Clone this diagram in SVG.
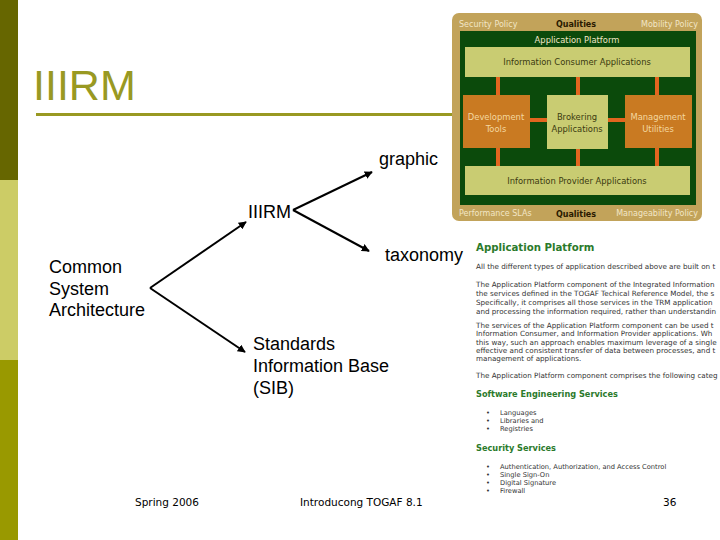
<svg xmlns="http://www.w3.org/2000/svg" width="720" height="540" viewBox="0 0 720 540">
<style>
.lbl{font-family:"Liberation Sans",Arial,sans-serif;font-size:18px;fill:#000}
.foot{font-family:"DejaVu Sans",Verdana,sans-serif;font-size:10.5px;fill:#000}
.pic{font-family:"DejaVu Sans",Verdana,sans-serif;font-size:8.4px;text-anchor:middle}
.sm{font-size:8px}
.picL{fill:#f2e6c6}
.picD{fill:#3a3a10}
.picO{fill:#f4d8a0}
.q{font-weight:bold;fill:#2a1a00}
.body{font-family:"DejaVu Sans",Verdana,sans-serif;font-size:7.2px;fill:#333}
.bl{font-family:"DejaVu Sans",Verdana,sans-serif;font-size:6.7px;fill:#333}
.h1{font-family:"DejaVu Sans",Verdana,sans-serif;font-size:10.2px;font-weight:bold;fill:#2b7a2b}
.h2{font-family:"DejaVu Sans",Verdana,sans-serif;font-size:8.2px;font-weight:bold;fill:#2b7a2b}
.conn{stroke:#000;stroke-width:2;fill:none;marker-end:url(#ah)}
.lt{fill:#c9cc72}
.or{fill:#c97a22}
.cn{fill:#e2651f}
</style>
<defs>
<marker id="ah" viewBox="0 0 10 10" refX="9" refY="5" markerWidth="4" markerHeight="4" orient="auto" markerUnits="strokeWidth">
<path d="M0,0 L10,5 L0,10 z" fill="#000"/>
</marker>
<clipPath id="clip"><rect x="0" y="0" width="720" height="540"/></clipPath>
</defs>
<rect width="720" height="540" fill="#fff"/>
<!-- left bar -->
<rect x="0" y="0" width="18" height="180" fill="#666600"/>
<rect x="0" y="180" width="18" height="180" fill="#cccc66"/>
<rect x="0" y="360" width="18" height="180" fill="#999900"/>
<!-- title -->
<text x="33" y="100" font-family="Liberation Sans,Arial,sans-serif" font-size="43" fill="#999922">IIIRM</text>
<rect x="36" y="113" width="416" height="3" fill="#999922"/>
<!-- picture -->
<g id="platform-picture">
<rect x="452" y="13" width="250" height="208" rx="7" fill="#c2a35a"/>
<rect x="460" y="31" width="236" height="174" fill="#0b4a0b"/>
<rect x="465" y="47" width="225" height="30" class="lt"/>
<rect x="496" y="77" width="4" height="18" class="cn"/>
<rect x="576" y="77" width="4" height="18" class="cn"/>
<rect x="655" y="77" width="4" height="18" class="cn"/>
<rect x="463" y="95" width="67" height="53" class="or"/>
<rect x="547" y="95" width="61" height="54" class="lt"/>
<rect x="625" y="95" width="67" height="53" class="or"/>
<rect x="530" y="118" width="17" height="4" class="cn"/>
<rect x="608" y="118" width="17" height="4" class="cn"/>
<rect x="496" y="148" width="4" height="18" class="cn"/>
<rect x="576" y="149" width="4" height="17" class="cn"/>
<rect x="655" y="148" width="4" height="18" class="cn"/>
<rect x="465" y="166" width="225" height="29" class="lt"/>
<text x="459" y="27" class="pic sm picL" style="text-anchor:start">Security Policy</text>
<text x="576" y="27" class="pic sm q">Qualities</text>
<text x="698" y="27" class="pic sm picL" style="text-anchor:end">Mobility Policy</text>
<text x="577" y="43" class="pic picL">Application Platform</text>
<text x="577" y="65" class="pic picD">Information Consumer Applications</text>
<text x="496" y="120" class="pic picO">Development</text>
<text x="496" y="132" class="pic picO">Tools</text>
<text x="577" y="120" class="pic picD">Brokering</text>
<text x="577" y="132" class="pic picD">Applications</text>
<text x="658" y="120" class="pic picO">Management</text>
<text x="658" y="132" class="pic picO">Utilities</text>
<text x="577" y="184" class="pic picD">Information Provider Applications</text>
<text x="459" y="216" class="pic sm picL" style="text-anchor:start">Performance SLAs</text>
<text x="576" y="217" class="pic sm q">Qualities</text>
<text x="698" y="216" class="pic sm picL" style="text-anchor:end">Manageability Policy</text>
</g>
<!-- text panel -->
<g id="text-panel" clip-path="url(#clip)">
<text x="476" y="251" class="h1">Application Platform</text>
<text x="476" y="269" class="body">All the different types of application described above are built on t</text>
<text x="476" y="287" class="body">The Application Platform component of the Integrated Information</text>
<text x="476" y="296" class="body">the services defined in the TOGAF Techical Reference Model, the s</text>
<text x="476" y="305" class="body">Specifically, it comprises all those services in the TRM application</text>
<text x="476" y="314" class="body">and processing the information required, rather than understandin</text>
<text x="476" y="328" class="body">The services of the Application Platform component can be used t</text>
<text x="476" y="336" class="body">Information Consumer, and Information Provider applications. Wh</text>
<text x="476" y="345" class="body">this way, such an approach enables maximum leverage of a single</text>
<text x="476" y="353" class="body">effective and consistent transfer of data between processes, and t</text>
<text x="476" y="361" class="body">management of applications.</text>
<text x="476" y="378" class="body">The Application Platform component comprises the following categ</text>
<text x="476" y="397" class="h2">Software Engineering Services</text>
<g class="bl">
<text x="486" y="415">•</text><text x="500" y="415">Languages</text>
<text x="486" y="423">•</text><text x="500" y="423">Libraries and</text>
<text x="486" y="431">•</text><text x="500" y="431">Registries</text>
</g>
<text x="476" y="451" class="h2">Security Services</text>
<g class="bl">
<text x="486" y="469">•</text><text x="500" y="469">Authentication, Authorization, and Access Control</text>
<text x="486" y="477">•</text><text x="500" y="477">Single Sign-On</text>
<text x="486" y="485">•</text><text x="500" y="485">Digital Signature</text>
<text x="486" y="493">•</text><text x="500" y="493">Firewall</text>
</g>
</g>
<!-- nodes -->
<g id="node-csa"><text class="lbl"><tspan x="49" y="273">Common</tspan><tspan x="49" y="295">System</tspan><tspan x="49" y="316">Architecture</tspan></text></g>
<g id="node-iiirm"><text x="248" y="218" class="lbl">IIIRM</text></g>
<g id="node-graphic"><text x="379" y="165" class="lbl">graphic</text></g>
<g id="node-taxonomy"><text x="385" y="261" class="lbl">taxonomy</text></g>
<g id="node-sib"><text class="lbl"><tspan x="253" y="350">Standards</tspan><tspan x="253" y="372">Information Base</tspan><tspan x="253" y="394">(SIB)</tspan></text></g>
<!-- connectors -->
<g id="connectors">
<path class="conn" d="M150,288 L246,222"/>
<path class="conn" d="M150,288 L245,352"/>
<path class="conn" d="M293,210 L372,172"/>
<path class="conn" d="M293,210 L369,251"/>
</g>
<!-- footer -->
<text x="135" y="506" class="foot">Spring 2006</text>
<text x="300" y="506" class="foot">Introducong TOGAF 8.1</text>
<text x="663" y="506" class="foot">36</text>
</svg>
